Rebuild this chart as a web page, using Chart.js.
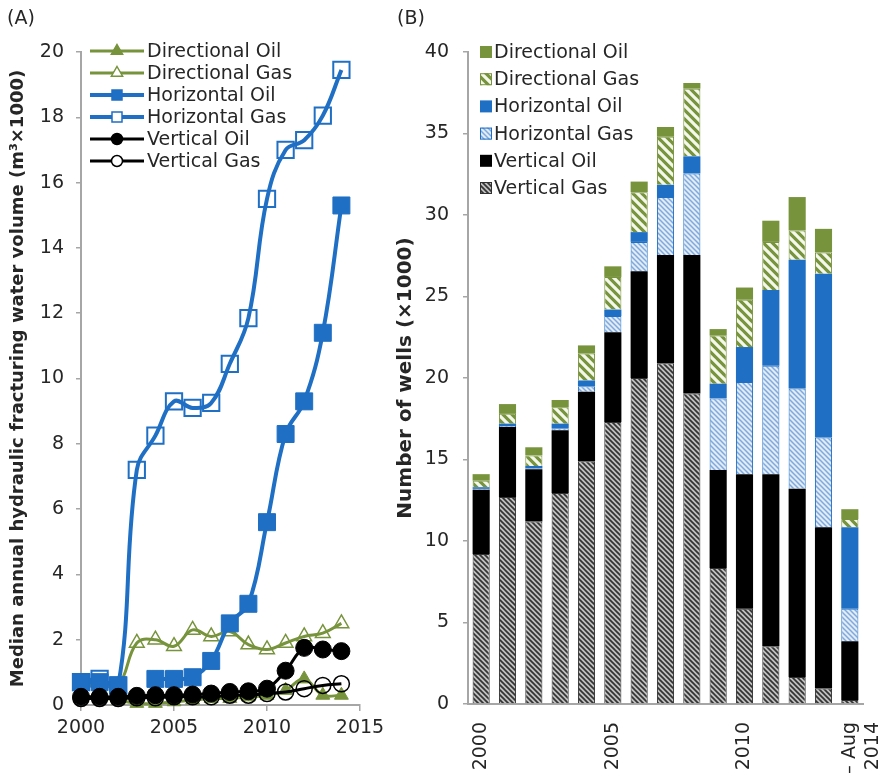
<!DOCTYPE html>
<html><head><meta charset="utf-8">
<script src="https://cdn.jsdelivr.net/npm/chart.js@4.4.1/dist/chart.umd.min.js"></script>
<style>
html,body{margin:0;padding:0;background:#fff;overflow:hidden;width:881px;height:773px;}
#cA{position:absolute;left:0;top:0;}
#cB{position:absolute;left:390px;top:0;}
.panel{position:absolute;font:19px "DejaVu Sans";color:#262626;z-index:5;}
</style></head><body>
<canvas id="cA" width="400" height="773"></canvas>
<canvas id="cB" width="540" height="800"></canvas>
<div class="panel" style="left:7px;top:6px">(A)</div>
<div class="panel" style="left:397px;top:6px">(B)</div>
<script>
// ---------- data (A) ----------
const years = [2000,2001,2002,2003,2004,2005,2006,2007,2008,2009,2010,2011,2012,2013,2014];
const directionalOilVol = [0.2,0.2,0.15,0.05,0.05,0.1,0.15,0.2,0.2,0.25,0.3,0.45,0.8,0.3,0.3];
const directionalGasVol = [0.6,0.6,0.6,1.9,2.0,1.8,2.3,2.1,2.25,1.85,1.7,1.9,2.1,2.2,2.5];
const horizontalOilVol = [0.7,0.7,0.6,null,0.8,0.8,0.85,1.35,2.5,3.1,5.6,8.3,9.3,11.4,15.3];
const horizontalGasVol = [0.7,0.8,0.6,7.2,8.25,9.3,9.1,9.25,10.45,11.85,15.5,17.0,17.3,18.05,19.45];
const verticalOilVol = [0.25,0.25,0.25,0.28,0.3,0.3,0.32,0.35,0.4,0.42,0.5,1.05,1.75,1.7,1.65];
const verticalGasVol = [0.2,0.2,0.2,0.22,0.22,0.25,0.25,0.25,0.3,0.3,0.35,0.4,0.5,0.6,0.65];
const xTicksA = [2000,2005,2010,2015];
const yTicksA = [0,2,4,6,8,10,12,14,16,18,20];

// ---------- data (B) ----------
const verticalGasWells = [9.2,12.7,11.2,12.95,14.9,17.3,20.0,20.9,19.05,8.35,5.85,3.55,1.65,0.95,0.25];
const verticalOilWells = [3.95,4.3,3.2,3.85,4.25,5.5,6.55,6.65,8.5,6.0,8.25,10.55,11.55,9.9,3.6];
const horizontalGasWells = [0.05,0.05,0.05,0.1,0.35,1.0,1.8,3.55,5.0,4.4,5.65,6.65,6.15,5.5,2.0];
const horizontalOilWells = [0.1,0.15,0.15,0.3,0.35,0.4,0.6,0.75,1.05,0.9,2.15,4.65,7.9,10.05,5.0];
const directionalGasWells = [0.4,0.6,0.65,1.0,1.65,2.0,2.45,2.95,4.15,2.95,2.9,2.95,1.8,1.3,0.5];
const directionalOilWells = [0.4,0.6,0.5,0.45,0.5,0.65,0.65,0.6,0.35,0.4,0.75,1.3,2.05,1.45,0.6];
const barTickLabels = ["2000","","","","","2005","","","","","2010","","","",["Jan \u2013 Aug","2014"]];
const yTicksB = [0,5,10,15,20,25,30,35,40];

// ---------- styles ----------
const GREEN = '#77933C', BLUE = '#1F6FC4', BLACK = '#000000';
const AXIS = '#A6A6A6', TEXT = '#262626';
const FONT = '"DejaVu Sans"';
Chart.defaults.font.family = FONT;
Chart.defaults.font.size = 19;
Chart.defaults.color = TEXT;

function hatch(bg, fg, size, lw) {
  const c = document.createElement('canvas'); c.width = size; c.height = size;
  const g = c.getContext('2d');
  g.fillStyle = bg; g.fillRect(0,0,size,size);
  g.strokeStyle = fg; g.lineWidth = lw; g.lineCap = 'square';
  g.beginPath();
  for (let k = -1; k <= 1; k++) { g.moveTo(k*size, 0); g.lineTo(k*size + size, size); }
  g.stroke();
  return g.createPattern(c, 'repeat');
}
const patVG = hatch('#C0C0C0', '#333333', 5, 1.7);
const patHG = hatch('#E2ECF8', '#7FA9DC', 5, 1.5);
const patDG = hatch(GREEN, '#F4F8EA', 9, 3.2);

function drawMarker(ctx, style, x, y, r, fill, stroke, lw) {
  ctx.beginPath();
  if (style === 'circle') ctx.arc(x, y, r, 0, Math.PI*2);
  else if (style === 'rect') ctx.rect(x - r, y - r, 2*r, 2*r);
  else if (style === 'triangle') {
    ctx.moveTo(x, y - r); ctx.lineTo(x + r*0.866, y + r*0.5); ctx.lineTo(x - r*0.866, y + r*0.5); ctx.closePath();
  }
  if (fill) { ctx.fillStyle = fill; ctx.fill(); }
  if (stroke && lw) { ctx.strokeStyle = stroke; ctx.lineWidth = lw; ctx.stroke(); }
}

function makeLegend(cfg) {
  return {
    id: 'insideLegend',
    afterDraw(chart) {
      const ctx = chart.ctx;
      ctx.save();
      ctx.font = cfg.font; ctx.textBaseline = 'middle'; ctx.textAlign = 'left';
      cfg.items.forEach((di, i) => {
        const ds = chart.data.datasets[di];
        const y = cfg.y + i * cfg.spacing;
        if (cfg.type === 'line') {
          ctx.strokeStyle = ds.borderColor; ctx.lineWidth = ds.borderWidth;
          ctx.beginPath(); ctx.moveTo(cfg.x, y); ctx.lineTo(cfg.x + cfg.len, y); ctx.stroke();
          const f = ds.pointBackgroundColor === 'rgba(0,0,0,0)' ? '#ffffff' : ds.pointBackgroundColor;
          drawMarker(ctx, ds.pointStyle, cfg.x + cfg.len/2, y, ds.pointStyle === 'rect' ? 5 : (ds.pointStyle === 'triangle' ? 6.5 : 5.5), f, ds.pointBorderColor, 1.5);
        } else {
          ctx.fillStyle = ds.backgroundColor;
          ctx.fillRect(cfg.x, y - cfg.box/2, cfg.box, cfg.box);
          if (ds.borderWidth) { ctx.strokeStyle = ds.borderColor; ctx.lineWidth = 1; ctx.strokeRect(cfg.x + 0.5, y - cfg.box/2 + 0.5, cfg.box - 1, cfg.box - 1); }
        }
        ctx.fillStyle = TEXT;
        ctx.fillText(ds.label, cfg.x + cfg.textOffset, y + 1);
      });
      ctx.restore();
    }
  };
}

function pts(arr) { return years.map((x, i) => ({x: x, y: arr[i]})); }

// ---------- Chart A ----------
const lineBase = { tension: 0.4, clip: false, spanGaps: false };
new Chart(document.getElementById('cA'), {
  type: 'line',
  data: {
    datasets: [
      Object.assign({ label: 'Directional Oil', data: pts(directionalOilVol), borderColor: GREEN, borderWidth: 3,
        pointStyle: 'triangle', pointRadius: 8, pointBackgroundColor: GREEN, pointBorderColor: GREEN, pointBorderWidth: 1, order: 5 }, lineBase),
      Object.assign({ label: 'Directional Gas', data: pts(directionalGasVol), borderColor: GREEN, borderWidth: 3,
        pointStyle: 'triangle', pointRadius: 8.5, pointBackgroundColor: 'rgba(0,0,0,0)', pointBorderColor: GREEN, pointBorderWidth: 1.5, order: 4 }, lineBase),
      Object.assign({ label: 'Horizontal Oil', data: pts(horizontalOilVol), borderColor: BLUE, borderWidth: 4,
        pointStyle: 'rect', pointRadius: 12, pointBackgroundColor: BLUE, pointBorderColor: BLUE, pointBorderWidth: 1, order: 2 }, lineBase),
      Object.assign({ label: 'Horizontal Gas', data: pts(horizontalGasVol), borderColor: BLUE, borderWidth: 4,
        pointStyle: 'rect', pointRadius: 11.5, pointBackgroundColor: 'rgba(0,0,0,0)', pointBorderColor: BLUE, pointBorderWidth: 2, order: 3 }, lineBase),
      Object.assign({ label: 'Vertical Oil', data: pts(verticalOilVol), borderColor: BLACK, borderWidth: 3,
        pointStyle: 'circle', pointRadius: 8.5, pointBackgroundColor: BLACK, pointBorderColor: BLACK, pointBorderWidth: 1, order: 0 }, lineBase),
      Object.assign({ label: 'Vertical Gas', data: pts(verticalGasVol), borderColor: BLACK, borderWidth: 3,
        pointStyle: 'circle', pointRadius: 8, pointBackgroundColor: 'rgba(0,0,0,0)', pointBorderColor: BLACK, pointBorderWidth: 1.5, order: 1 }, lineBase)
    ]
  },
  options: {
    responsive: false, animation: false,
    layout: { padding: { top: 52, right: 40, bottom: 0, left: 0 } },
    plugins: { legend: { display: false }, tooltip: { enabled: false } },
    scales: {
      x: {
        type: 'linear', min: xTicksA[0], max: xTicksA[xTicksA.length-1],
        afterBuildTicks: s => { s.ticks = xTicksA.map(v => ({value: v})); },
        ticks: { callback: v => String(v), padding: 6, font: { size: 19 }, color: TEXT, maxRotation: 0 },
        grid: { drawOnChartArea: false, drawTicks: true, tickLength: 6, color: AXIS, lineWidth: 1.5 },
        border: { display: true, color: AXIS, width: 2 },
        afterFit: s => { s.height = 68; }
      },
      y: {
        min: 0, max: yTicksA[yTicksA.length-1],
        afterBuildTicks: s => { s.ticks = yTicksA.map(v => ({value: v})); },
        ticks: { padding: 12, font: { size: 19 }, color: TEXT },
        grid: { drawOnChartArea: false, drawTicks: true, tickLength: 5, color: AXIS, lineWidth: 1.5 },
        border: { display: true, color: AXIS, width: 2 },
        title: { display: true, text: 'Median annual hydraulic fracturing water volume (m\u00B3\u00D71000)',
          font: { size: 18, weight: 'bold' }, color: TEXT, padding: { top: 8, bottom: 0 } },
        afterFit: s => { s.width = 81; }
      }
    }
  },
  plugins: [makeLegend({ type: 'line', items: [0,1,2,3,4,5], x: 90, len: 54, y: 51, spacing: 22,
    textOffset: 57, font: '19px ' + FONT })]
});

// ---------- Chart B ----------
new Chart(document.getElementById('cB'), {
  type: 'bar',
  data: {
    labels: years.map(String),
    datasets: [
      { label: 'Vertical Gas', data: verticalGasWells, backgroundColor: patVG, borderColor: '#303030', borderWidth: 1 },
      { label: 'Vertical Oil', data: verticalOilWells, backgroundColor: BLACK, borderWidth: 0 },
      { label: 'Horizontal Gas', data: horizontalGasWells, backgroundColor: patHG, borderColor: BLUE, borderWidth: 1 },
      { label: 'Horizontal Oil', data: horizontalOilWells, backgroundColor: BLUE, borderWidth: 0 },
      { label: 'Directional Gas', data: directionalGasWells, backgroundColor: patDG, borderColor: GREEN, borderWidth: 1 },
      { label: 'Directional Oil', data: directionalOilWells, backgroundColor: GREEN, borderWidth: 0 }
    ]
  },
  options: {
    responsive: false, animation: false,
    datasets: { bar: { categoryPercentage: 1, barPercentage: 0.65 } },
    layout: { padding: { top: 52, right: 67, bottom: 0, left: 0 } },
    plugins: { legend: { display: false }, tooltip: { enabled: false } },
    scales: {
      x: {
        stacked: true,
        ticks: { autoSkip: false, minRotation: 90, maxRotation: 90, padding: 10, font: { size: 19 }, color: TEXT,
          callback: (v, i) => barTickLabels[i] },
        grid: { display: false },
        border: { display: true, color: AXIS, width: 2 },
        afterFit: s => { s.height = 96; }
      },
      y: {
        stacked: true, min: 0, max: yTicksB[yTicksB.length-1],
        afterBuildTicks: s => { s.ticks = yTicksB.map(v => ({value: v})); },
        ticks: { padding: 14, font: { size: 19 }, color: TEXT },
        grid: { drawOnChartArea: false, drawTicks: true, tickLength: 5, color: AXIS, lineWidth: 1.5 },
        border: { display: true, color: AXIS, width: 2 },
        title: { display: true, text: 'Number of wells (\u00D71000)', font: { size: 20, weight: 'bold' }, color: TEXT,
          padding: { top: 4, bottom: 0 } },
        afterFit: s => { s.width = 78; }
      }
    }
  },
  plugins: [makeLegend({ type: 'box', items: [5,4,3,2,1,0], x: 90, box: 12, y: 52, spacing: 27.2,
    textOffset: 14, font: '19px ' + FONT })]
});
</script>
</body></html>
